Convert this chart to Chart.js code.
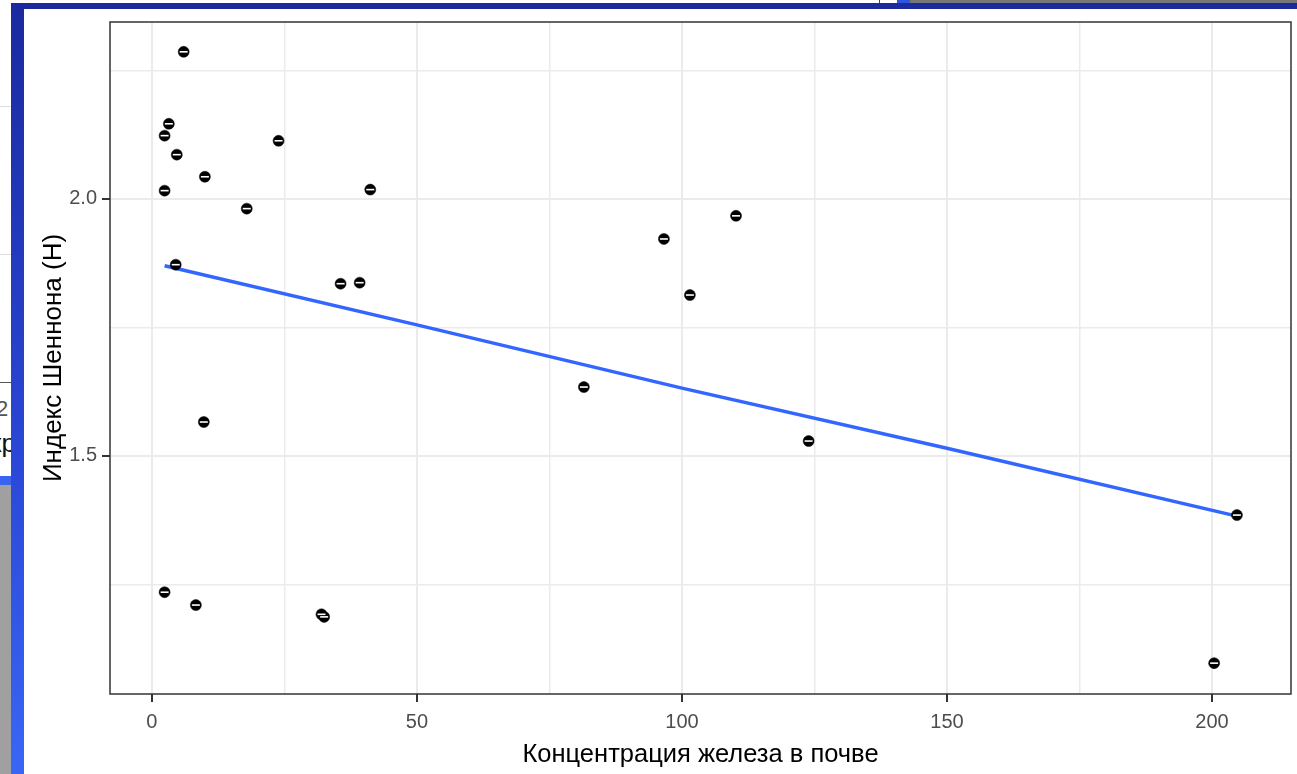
<!DOCTYPE html>
<html>
<head>
<meta charset="utf-8">
<script src="https://cdn.jsdelivr.net/npm/chart.js@4"></script>
<style>
  html, body { margin:0; padding:0; background:#ffffff; width:1297px; height:774px; overflow:hidden; position:relative; }
  .abs { position:absolute; }
  #wrap { position:absolute; left:24px; top:9px; width:1273px; height:765px; background:#ffffff; }
</style>
</head>
<body>
<!-- screenshot frame -->
<div class="abs" style="left:0;top:0;width:11px;height:774px;background:#ffffff;"></div>
<div class="abs" style="left:0;top:106px;width:11px;height:1px;background:#dcdcdc;"></div>
<div class="abs" style="left:0;top:254px;width:11px;height:1px;background:#dcdcdc;"></div>
<div class="abs" style="left:0;top:382px;width:11px;height:1px;background:#555;"></div>
<div class="abs" style="left:0;top:384px;width:11px;height:92px;overflow:hidden;">
  <div style="position:absolute;left:-4px;top:12px;font:22px 'Liberation Sans',Arial;color:#555;">2</div>
  <div style="position:absolute;left:-10px;top:44px;font:26px 'Liberation Sans',Arial;color:#111;">кр</div>
</div>
<div class="abs" style="left:0;top:476px;width:11px;height:9px;background:#3a63f0;"></div>
<div class="abs" style="left:0;top:485px;width:11px;height:289px;background:#a0a0a0;"></div>
<div class="abs" style="left:11px;top:3px;width:13px;height:771px;background:linear-gradient(#1a2a9f,#2a48d8 60%,#3a66f5);"></div>
<div class="abs" style="left:11px;top:3px;width:1286px;height:6px;background:#1b2b9e;"></div>
<div class="abs" style="left:910px;top:0;width:387px;height:3px;background:#777777;"></div>
<div class="abs" style="left:897px;top:0;width:13px;height:3px;background:#2f55e0;"></div>
<div class="abs" style="left:879px;top:0;width:1px;height:3px;background:#444;"></div>
<div id="wrap"><canvas id="c" width="1273" height="765"></canvas></div>
<script>
// ---- data ----
const ironX = [6.0, 3.2, 2.4, 4.7, 10.0, 2.4, 23.9, 17.9, 41.2, 4.5, 35.6, 39.2, 96.6, 110.2, 101.5, 81.5, 123.9, 204.7, 9.8, 2.4, 8.3, 32.0, 32.5, 200.4];
const shannonH = [2.286, 2.146, 2.123, 2.086, 2.043, 2.016, 2.113, 1.981, 2.018, 1.872, 1.835, 1.837, 1.922, 1.967, 1.813, 1.634, 1.529, 1.385, 1.566, 1.235, 1.210, 1.192, 1.187, 1.097];
const fitX = [2.4, 50, 100, 150, 204.7];
const fitY = [1.870, 1.755, 1.632, 1.515, 1.383];
const xGridValues = [0, 25, 50, 75, 100, 125, 150, 175, 200];
const xTickLabels = [0, 50, 100, 150, 200];
const yGridValues = [1.25, 1.5, 1.75, 2.0, 2.25];
const yTickLabels = [1.5, 2.0];
const xTitle = 'Концентрация железа в почве';
const yTitle = 'Индекс Шеннона (H)';

const FONT = "'Liberation Sans', Arial, sans-serif";
const pts = ironX.map((x, i) => ({ x: x, y: shannonH[i] }));
const fit = fitX.map((x, i) => ({ x: x, y: fitY[i] }));

const panelBorder = {
  id: 'panelBorder',
  beforeDatasetsDraw(chart) {
    const a = chart.chartArea, ctx = chart.ctx;
    ctx.save();
    ctx.strokeStyle = '#333333';
    ctx.lineWidth = 1.5;
    ctx.strokeRect(a.left, a.top, a.right - a.left, a.bottom - a.top);
    ctx.restore();
  }
};

new Chart(document.getElementById('c'), {
  type: 'scatter',
  data: {
    datasets: [
      { label: 'fit', data: fit, showLine: true, borderColor: '#3366FF', borderWidth: 3.5,
        pointRadius: 0, fill: false, order: 3, tension: 0 },
      { label: 'points', data: pts, pointStyle: 'circle', pointRadius: 5.5, backgroundColor: '#000000',
        borderColor: '#000000', borderWidth: 0.5, order: 2 },
      { label: 'bars', data: pts, pointStyle: 'line', pointRadius: 4, borderColor: '#ffffff',
        borderWidth: 1.6, backgroundColor: '#ffffff', order: 1 }
    ]
  },
  options: {
    responsive: false,
    animation: false,
    layout: { padding: { left: 0, right: 2, top: 13, bottom: 0 } },
    plugins: { legend: { display: false }, tooltip: { enabled: false } },
    scales: {
      x: {
        type: 'linear', min: -7.9, max: 214.9,
        afterBuildTicks: s => { s.ticks = xGridValues.map(v => ({ value: v })); },
        afterFit: s => { s.height = 80; s.paddingLeft = 0; s.paddingRight = 0; },
        ticks: {
          autoSkip: false, maxRotation: 0, padding: 8,
          color: '#4d4d4d', font: { family: FONT, size: 20 },
          callback: v => xTickLabels.includes(v) ? String(v) : ''
        },
        grid: {
          color: '#ebebeb',
          lineWidth: c => (c.tick && xTickLabels.includes(c.tick.value)) ? 2 : 1.5,
          tickColor: c => (c.tick && xTickLabels.includes(c.tick.value)) ? '#333333' : 'rgba(0,0,0,0)',
          tickLength: 8, tickWidth: 2
        },
        border: { display: false },
        title: { display: true, text: xTitle, color: '#000000', font: { family: FONT, size: 25.5 },
                 padding: { top: 0, bottom: 4 } }
      },
      y: {
        type: 'linear', min: 1.037, max: 2.344,
        afterBuildTicks: s => { s.ticks = yGridValues.map(v => ({ value: v })); },
        afterFit: s => { s.width = 86; s.paddingTop = 0; s.paddingBottom = 0; },
        ticks: {
          autoSkip: false, padding: 5,
          color: '#4d4d4d', font: { family: FONT, size: 20 },
          callback: v => yTickLabels.includes(v) ? v.toFixed(1) : ''
        },
        grid: {
          color: '#ebebeb',
          lineWidth: c => (c.tick && yTickLabels.includes(c.tick.value)) ? 2 : 1.5,
          tickColor: c => (c.tick && yTickLabels.includes(c.tick.value)) ? '#333333' : 'rgba(0,0,0,0)',
          tickLength: 8, tickWidth: 2
        },
        border: { display: false },
        title: { display: true, text: yTitle, color: '#000000', font: { family: FONT, size: 26 },
                 padding: { top: 14, bottom: 0 } }
      }
    }
  },
  plugins: [panelBorder]
});
</script>
</body>
</html>
